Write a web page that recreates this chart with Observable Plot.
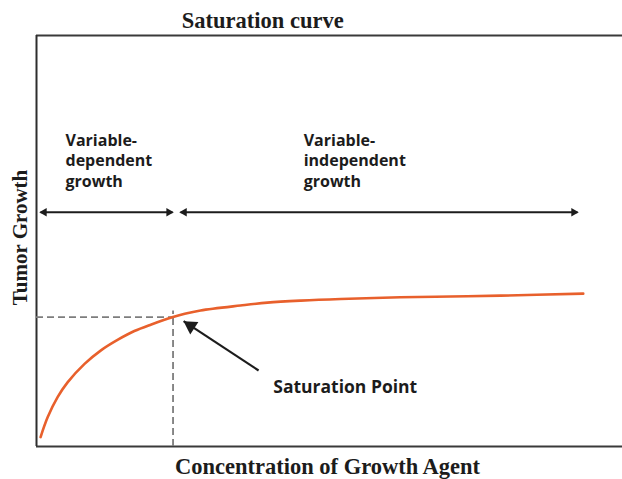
<!DOCTYPE html>
<html>
<head>
<meta charset="utf-8">
<script src="https://cdn.jsdelivr.net/npm/d3@7"></script>
<script src="https://cdn.jsdelivr.net/npm/@observablehq/plot@0.6"></script>
<style>
  html, body { margin: 0; padding: 0; background: #ffffff; }
</style>
</head>
<body>
<div id="chart"></div>
<script>
// ---- Data (arbitrary units, 0–100 on both axes) ----
const concentration = [0.7, 1.9, 3.6, 5.3, 8.2, 11.0, 13.9, 16.7, 19.6, 23.3, 25.3, 28.0, 34.8, 39.4, 45.1, 51.9, 62.1, 70.7, 79.2, 93.3];
const growth        = [2.3, 7.1, 12.0, 15.6, 20.1, 23.4, 26.0, 28.1, 29.7, 31.5, 32.3, 33.1, 34.3, 35.0, 35.5, 35.9, 36.3, 36.5, 36.7, 37.2];

const saturationX = [23.3];
const saturationY = [31.5];

const regionLabels = ["Variable-\ndependent\ngrowth", "Variable-\nindependent\ngrowth"];
const regionStart  = [0.7, 24.6];
const regionEnd    = [23.2, 92.3];
const regionLabelX = [4.95, 45.6];
const regionArrowY = [57.0, 57.0];
const regionLabelY = [63.1, 63.1];

const pointerLabel = ["Saturation Point"];
const pointerFromX = [37.9], pointerFromY = [18.5];
const pointerToX   = [25.1], pointerToY   = [30.5];
const pointerLabelX = [40.4], pointerLabelY = [13.1];

const titleText = ["Saturation curve"];
const titleX = [38.6];
const xLabel = ["Concentration of Growth Agent"];
const yLabel = ["Tumor Growth"];

// ---- Tables built from the arrays ----
const curve = concentration.map((c, i) => ({c, g: growth[i]}));
const regions = regionLabels.map((t, i) => ({t, x1: regionStart[i], x2: regionEnd[i], y: regionArrowY[i], lx: regionLabelX[i], ly: regionLabelY[i]}));
const heads = regions.flatMap(r => [{x: r.x1, y: r.y, dir: -1}, {x: r.x2, y: r.y, dir: 1}]);
const pointer = pointerLabel.map((t, i) => ({t, x1: pointerFromX[i], y1: pointerFromY[i], x2: pointerToX[i], y2: pointerToY[i], lx: pointerLabelX[i], ly: pointerLabelY[i]}));
const sat = saturationX.map((x, i) => ({x, y: saturationY[i]}));

const serif = "'Liberation Serif', 'Times New Roman', Times, serif";
const sans = "'Open Sans', 'Noto Sans', sans-serif";
const ink = "#1c1c1c";

const base = {
  width: 622,
  height: 479,
  marginLeft: 36,
  marginRight: 0,
  marginTop: 35,
  marginBottom: 33,
  x: {domain: [0, 100], axis: null},
  y: {domain: [0, 100], axis: null},
  style: {background: "#ffffff", overflow: "visible"}
};

// first pass to learn the pixel geometry for the pointer arrowhead
const probe = Plot.plot({...base, marks: [Plot.ruleX([0])]});
const sx = probe.scale("x"), sy = probe.scale("y");
const pointerHeads = pointer.map(p => {
  const px1 = sx.apply(p.x1), py1 = sy.apply(p.y1), px2 = sx.apply(p.x2), py2 = sy.apply(p.y2);
  const vx = px1 - px2, vy = py1 - py2, len = Math.hypot(vx, vy);
  const rot = Math.atan2(-vx, vy) * 180 / Math.PI; // rotate triangle (points up) toward the tip
  const r = 5.5, back = 1.555 * r;
  return {x: p.x2, y: p.y2, rot, dx: vx / len * back, dy: vy / len * back};
});

const chart = Plot.plot({
  ...base,
  marks: [
    // frame
    Plot.ruleY([0, 100], {stroke: "#3a3a3a", strokeWidth: 2}),
    Plot.ruleX([0], {stroke: "#2e2e2e", strokeWidth: 2}),
    // dashed guides
    Plot.ruleY(sat, {y: "y", x1: 0, x2: "x", stroke: "#7d7d7d", strokeWidth: 1.8, strokeDasharray: "7,4"}),
    Plot.ruleX(sat, {x: "x", y1: 0, y2: "y", insetBottom: 6, stroke: "#7d7d7d", strokeWidth: 1.8, strokeDasharray: "7,4"}),
    // saturation curve
    Plot.line(curve, {x: "c", y: "g", stroke: "#e8602c", strokeWidth: 2.6, curve: "catmull-rom"}),
    // region arrows
    Plot.link(regions, {x1: "x1", x2: "x2", y1: "y", y2: "y", stroke: ink, strokeWidth: 2}),
    Plot.dot(heads, {x: "x", y: "y", symbol: "triangle", r: 3.2, fill: ink, stroke: null,
      rotate: d => d.dir * 90}),
    // region labels
    Plot.text(regions, {x: "lx", y: "ly", text: "t", textAnchor: "start", lineAnchor: "bottom", lineHeight: 1.3,
      fontFamily: sans, fontWeight: 700, fontSize: 16, fill: ink}),
    // pointer arrow
    Plot.link(pointer, {x1: "x1", y1: "y1", x2: "x2", y2: "y2", stroke: ink, strokeWidth: 2.2}),
    Plot.dot(pointerHeads, {x: "x", y: "y", symbol: "triangle", r: 5.5, fill: ink, stroke: null,
      rotate: "rot", dx: pointerHeads[0].dx, dy: pointerHeads[0].dy}),
    Plot.text(pointer, {x: "lx", y: "ly", text: "t", textAnchor: "start", lineAnchor: "bottom",
      fontFamily: sans, fontWeight: 700, fontSize: 17.5, fill: ink}),
    // title & axis labels
    Plot.text(titleText, {x: () => titleX[0], text: d => d, frameAnchor: "top", dy: -8, lineAnchor: "bottom",
      fontFamily: serif, fontWeight: "bold", fontSize: 22.5, fill: ink}),
    Plot.text(xLabel, {text: d => d, frameAnchor: "bottom", dy: 27, dx: -2, lineAnchor: "bottom",
      fontFamily: serif, fontWeight: "bold", fontSize: 22.5, fill: ink}),
    Plot.text(yLabel, {text: d => d, frameAnchor: "left", rotate: -90, textAnchor: "middle", dx: -10, dy: -3.5, lineAnchor: "bottom",
      fontFamily: serif, fontWeight: "bold", fontSize: 21, fill: ink})
  ]
});

// pull each region arrowhead back so its tip sits at the arrow end
chart.querySelectorAll("g[aria-label='dot']")[0]?.querySelectorAll("path").forEach((el, i) => {
  const dir = heads[i].dir;
  const t = el.getAttribute("transform") || "";
  el.setAttribute("transform", t.replace(/translate\(([-\d.]+),\s*([-\d.]+)\)/, (m, a, b) => `translate(${+a - dir * 3.6},${b})`));
});

document.getElementById("chart").appendChild(chart);
</script>
</body>
</html>
